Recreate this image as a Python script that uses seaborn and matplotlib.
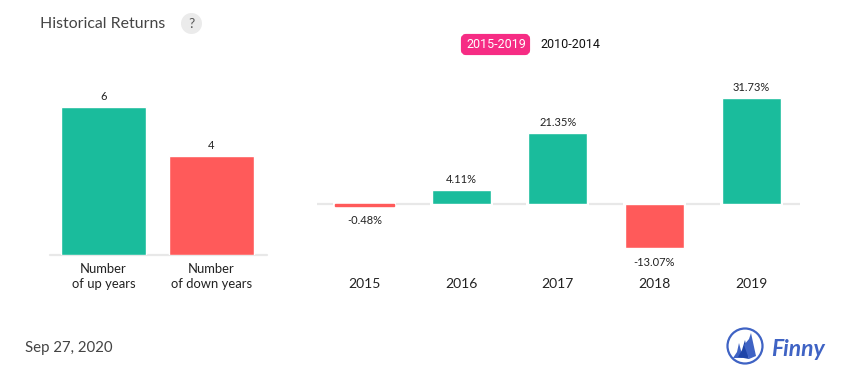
import matplotlib
matplotlib.use("Agg")
import matplotlib.pyplot as plt
from matplotlib.patches import Circle, FancyBboxPatch, Polygon
import seaborn as sns
import pandas as pd

# values
count_labels = ["Number\nof up years", "Number\nof down years"]
count_values = [6, 4]
count_kind = ["up", "down"]

years = ["2015", "2016", "2017", "2018", "2019"]
returns = [-0.48, 4.11, 21.35, -13.07, 31.73]
return_labels = ["-0.48%", "4.11%", "21.35%", "-13.07%", "31.73%"]

GREEN = "#1abc9c"
RED = "#ff5a5a"
PINK = "#f62c84"
LINE = "#e8e8e8"
W, H = 855, 382
palette = {"up": GREEN, "down": RED}

sns.set_theme(style="white")
plt.rcParams["font.family"] = ["Lato", "DejaVu Sans"]


def px_axes(fig, left, top, right, bottom):
    return fig.add_axes([left / W, 1 - bottom / H, (right - left) / W, (bottom - top) / H])


def clean(ax):
    sns.despine(ax=ax, left=True, bottom=True)
    ax.set_xlabel("")
    ax.set_ylabel("")
    ax.set_yticks([])
    ax.patch.set_alpha(0)
    ax.tick_params(axis="x", length=0, labelcolor="#222222")


fig = plt.figure(figsize=(W / 100, H / 100), dpi=100)

# page decoration in pixel coordinates
bg = fig.add_axes([0, 0, 1, 1])
bg.set_xlim(0, W)
bg.set_ylim(H, 0)
bg.axis("off")
bg.text(40, 23.5, "Historical Returns", fontsize=11.45, color="#444444", va="center")
bg.add_patch(Circle((191.5, 23.5), 10.5, color="#ebebeb", lw=0))
bg.text(191.5, 23.5, "?", fontsize=10, color="#555555", ha="center", va="center")
bg.add_patch(FancyBboxPatch((463, 36), 65, 17, boxstyle="round,pad=0,rounding_size=3",
                            mutation_aspect=1, fc=PINK, ec=PINK, lw=3))
bg.text(496, 44.5, "2015-2019", fontsize=9, color="white", ha="center", va="center", family="Roboto")
bg.text(570, 44.5, "2010-2014", fontsize=9, color="#111111", ha="center", va="center", family="Roboto")
bg.text(25, 348, "Sep 27, 2020", fontsize=10.8, color="#444444", va="center")

# logo
bg.add_patch(Circle((745, 346), 17.5, fill=False, ec="#3f63c4", lw=1.6))
bg.add_patch(Polygon([(733, 358), (737, 352), (739, 343), (743, 358)], fc="#3f63c4", lw=0))
bg.add_patch(Polygon([(738, 357), (742, 350), (745, 340), (749, 359)], fc="#1f45a8", lw=0))
bg.add_patch(Polygon([(744, 345), (749, 339), (751, 333), (756, 356), (749, 359)], fc="#3f63c4", lw=0))
bg.text(771, 350, "Finny", fontsize=16.5, color="#3f63c4", style="italic", weight="bold",
        va="center", family="Lato")

# left panel: count of up and down years
ax1 = px_axes(fig, 49.6, 60, 266.6, 255)
ax1.axhline(0, color=LINE, lw=1.6, zorder=0, clip_on=False)
sns.barplot(x=count_labels, y=count_values, hue=count_kind, palette=palette, dodge=False,
            width=0.78, saturation=1, legend=False, ax=ax1, zorder=2)
ax1.set_xlim(-0.5, 1.51)
ax1.set_ylim(0, 195 / 24.7)
for i, v in enumerate(count_values):
    ax1.annotate(str(v), (i, v), xytext=(0, 5), textcoords="offset pixels",
                 ha="center", va="bottom", fontsize=8, color="#222222")
clean(ax1)
ax1.tick_params(axis="x", pad=5.5, labelsize=9.4)
for t in ax1.get_xticklabels():
    t.set_linespacing(1.3)

# right panel: yearly returns
ax2 = px_axes(fig, 317, 60, 800, 270)
sns.barplot(x=years, y=returns, hue=[("up" if r >= 0 else "down") for r in returns],
            palette=palette, dodge=False, width=0.61, saturation=1, legend=False,
            ax=ax2, zorder=2)
# the tiny 2015 bar would vanish without an outline
for p in ax2.patches:
    if abs(p.get_height()) < 1:
        p.set_edgecolor(p.get_facecolor())
        p.set_linewidth(1.0)
# baseline runs between the bars, with a small gap on each side
half = 0.305 + 0.02
edges = [-0.49] + [e for i in range(len(years)) for e in (i - half, i + half)] + [4.505]
starts, ends = edges[0::2], edges[1::2]
ax2.hlines([0] * len(starts), starts, ends, color=LINE, lw=1.6, zorder=1)
ax2.set_xlim(-0.49, 4.505)
ax2.set_ylim(-66 / 3.33, 144 / 3.33)
for i, (r, lab) in enumerate(zip(returns, return_labels)):
    off = 5 if r > 0 else -9.5
    ax2.annotate(lab, (i, r), xytext=(0, off), textcoords="offset pixels", ha="center",
                 va="bottom" if r > 0 else "top", fontsize=8, color="#222222")
clean(ax2)
ax2.tick_params(axis="x", pad=6, labelsize=10)

fig.savefig("out.png", dpi=100, facecolor="white")
